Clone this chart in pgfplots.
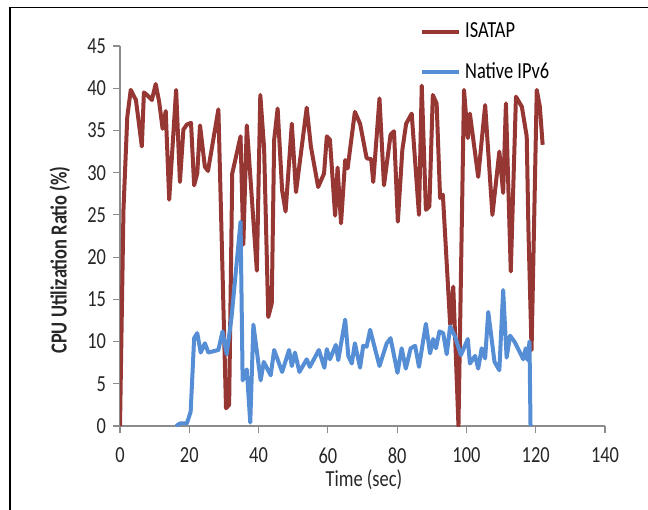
\documentclass[border=0pt]{standalone}
\usepackage{pgfplots}
\pgfplotsset{compat=1.18}
\usepackage{fontspec}
\setmainfont{Carlito}[FakeStretch=0.8]
\definecolor{isared}{RGB}{150,55,52}
\definecolor{ipblue}{RGB}{85,142,213}
\begin{document}
\begin{tikzpicture}
\useasboundingbox (0,0) rectangle (324bp,-255bp);
\draw[black, line width=0.8bp] (5bp,-255bp) -- (5bp,-3.75bp) -- (324bp,-3.75bp);
\begin{axis}[
  at={(60bp,-213bp)}, anchor=south west,
  scale only axis, width=242.5bp, height=190bp,
  xmin=0, xmax=140, ymin=0, ymax=45,
  xtick={0,20,...,140}, ytick={0,5,...,45},
  axis x line=bottom, axis y line=left,
  axis line style={draw=black!45, line width=0.6bp, -},
  tick style={draw=black!45, line width=0.6bp},
  tick align=outside, major tick length=3.5bp,
  /pgf/number format/assume math mode=true,
  tick label style={font=\fontsize{11.5bp}{13bp}\selectfont, text=black!85},
  xticklabel style={yshift=-4bp},
  xlabel={Time (sec)}, ylabel={\textbf{CPU Utilization Ratio (\%)}},
  label style={font=\fontsize{11.5bp}{13bp}\selectfont, text=black!85},
  xlabel style={at={(axis description cs:0.503,-0.142)}, anchor=center},
  ylabel style={at={(axis description cs:-0.124,0.437)}, anchor=center},
  legend style={draw=none, fill=none, at={(rel axis cs:0.614,1.078)}, anchor=north west,
    font=\fontsize{11.5bp}{13bp}\selectfont, row sep=7bp, inner sep=1bp,
    /tikz/every even column/.append style={column sep=0bp}},
  legend cell align=left,
  legend image code/.code={\draw[#1] (0bp,0bp) -- (18.5bp,0bp);},
  every axis plot/.append style={line width=2bp, line join=round, mark=none},
]
\addplot[isared] coordinates {
(0,0) (1.0,25.6) (2.1,36.6) (3.1,39.8) (4.6,38.6) (6.3,33.1) (6.9,39.5) (7.8,39.2)
(9.2,38.6) (10.3,40.5) (11.3,38.4) (12.3,35.2) (13.2,37.3) (14.2,26.8) (16.2,39.8)
(17.3,28.9) (18.3,35.1) (19.3,35.7) (20.5,35.9) (21.4,28.5) (22.3,29.9) (23.1,35.6)
(24.5,30.7) (25.4,30.2) (28.4,37.5) (30.6,2.1) (31.5,2.5) (32.4,29.9) (34.8,34.3)
(35.6,21.5) (36.6,35.6) (39.5,18.4) (40.5,39.2) (41.6,32.9) (42.8,12.9) (43.8,14.5)
(44.5,33.9) (45.5,37.6) (46.8,27.9) (47.8,25.4) (49.6,35.8) (50.8,27.7) (53.9,37.7)
(55.1,33.1) (57.2,28.3) (58.9,29.9) (59.7,34.3) (60.6,33.9) (62.1,24.9) (62.8,30.6)
(63.8,24.0) (65.0,31.5) (65.7,30.5) (67.8,37.2) (69.3,35.8) (71.2,31.7) (72.5,31.6)
(73.1,28.9) (74.9,38.8) (76.2,28.5) (78.1,34.5) (79.1,34.9) (80.2,24.2) (81.5,32.7)
(82.6,35.8) (84.2,37.0) (86.3,25.0) (87.1,40.3) (88.3,25.6) (89.3,26.0) (90.3,39.2)
(91.4,38.2) (92.4,27.0) (93.2,27.4) (95.3,12.0) (96.2,16.5) (97.7,0) (99.3,39.8)
(100.4,34.1) (101.0,37.0) (103.4,29.5) (105.4,38.0) (107.5,25.0) (109.5,32.5)
(110.6,27.6) (111.4,38.2) (112.8,18.3) (114.3,39.0) (116.0,37.8) (117.4,34.3)
(117.9,23.2) (118.8,9.0) (120.3,39.8) (121.2,37.8) (122.0,33.3)
};
\addlegendentry{ISATAP}
\addplot[ipblue] coordinates {
(16.2,0) (17.3,0.3) (19.3,0.3) (20.4,1.7) (21.4,10.4) (22.3,11.0) (23.3,8.7) (24.5,9.8)
(25.5,8.7) (28.4,9.0) (29.6,11.2) (30.8,8.5) (32.2,12.9) (34.8,24.2) (35.4,5.4)
(36.6,6.7) (37.6,0.4) (38.5,12.0) (40.6,5.4) (41.5,7.6) (43.5,6.0) (44.5,9.0)
(46.8,6.4) (48.8,9.0) (49.6,7.1) (50.5,8.7) (51.8,6.4) (53.9,7.9) (54.8,7.0)
(57.4,9.0) (59.0,6.9) (59.7,9.1) (60.6,7.9) (62.3,9.6) (63.0,7.8) (65.0,12.6)
(65.9,8.3) (66.9,7.4) (67.8,9.8) (69.3,6.9) (70.2,9.5) (71.2,9.4) (72.2,11.4)
(74.9,7.1) (77.0,9.8) (78.1,10.4) (80.1,6.3) (81.3,9.2) (82.5,6.8) (83.9,9.2)
(85.2,9.5) (86.3,7.0) (88.3,12.1) (89.5,8.6) (90.4,10.3) (91.2,9.2) (92.2,11.2)
(93.3,11.0) (94.3,8.5) (95.3,11.8) (96.7,10.6) (98.4,8.4) (100.4,10.3) (101.0,7.4)
(102.5,8.3) (103.4,6.8) (104.4,9.2) (105.4,8.0) (106.3,13.5) (108.1,7.6) (109.5,6.6)
(110.6,16.1) (111.6,8.1) (112.6,10.7) (114.0,9.9) (116.4,7.9) (117.1,9.2) (117.7,7.8)
(118.2,10.0) (118.5,0)
};
\addlegendentry{Native IPv6}
\end{axis}
\end{tikzpicture}
\end{document}
